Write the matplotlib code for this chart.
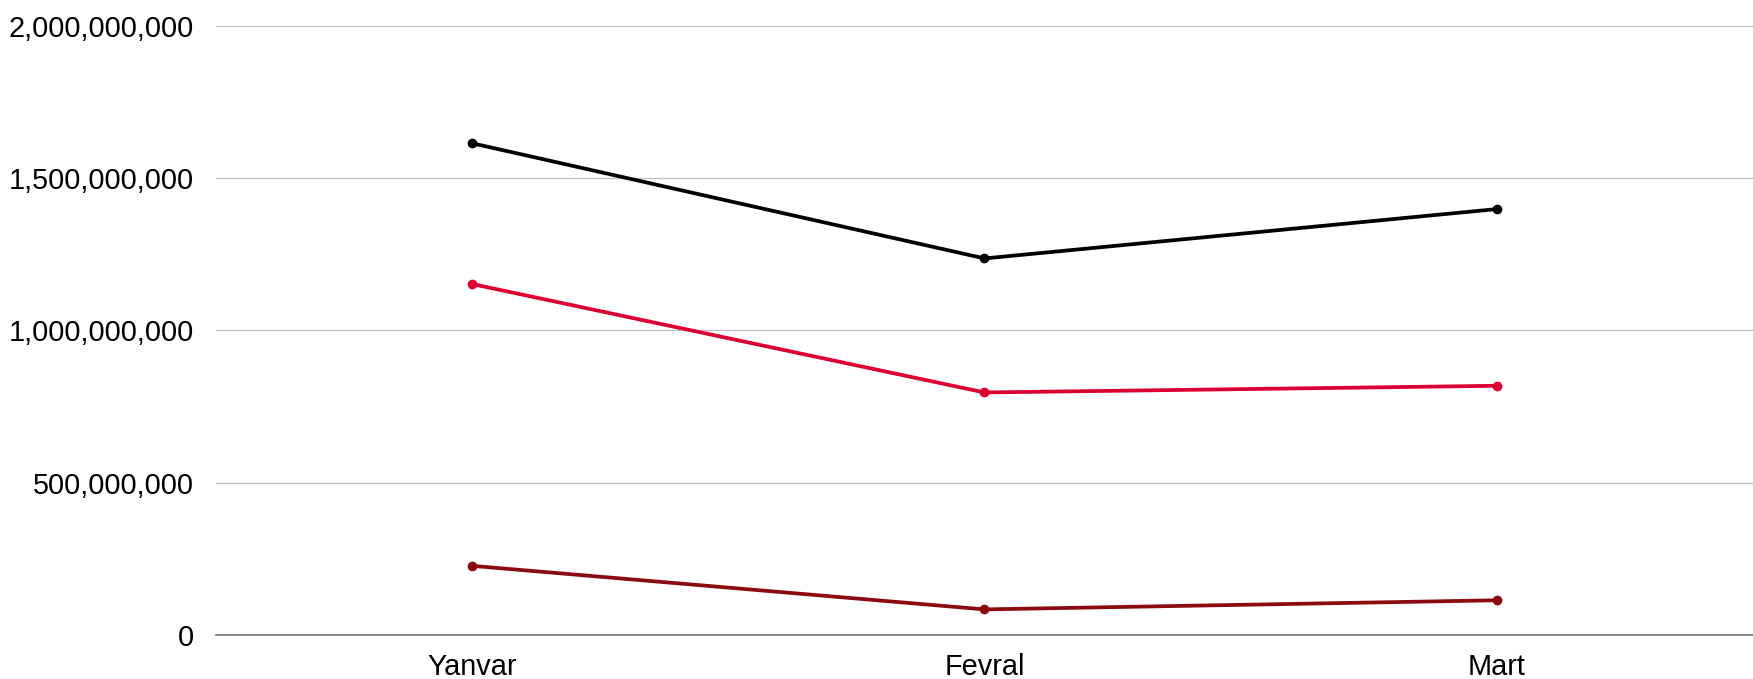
import matplotlib
matplotlib.use('Agg')
import matplotlib.pyplot as plt
from matplotlib.ticker import FuncFormatter

plt.rcParams['font.family'] = ['Liberation Sans', 'DejaVu Sans']

months = ['Yanvar', 'Fevral', 'Mart']
total = [1614e6, 1236e6, 1398e6]
second = [1152e6, 796e6, 818e6]
third = [227e6, 84e6, 114e6]

colors = ['#000000', '#DC0032', '#8B0A10']

fig = plt.figure(figsize=(17.53, 6.79), dpi=100)
ax = fig.add_axes([0.1232, 0.0648, 0.8768, 0.8974])

x = range(len(months))
for vals, c in zip([total, second, third], colors):
    ax.plot(x, vals, color=c, lw=2.7, marker='o', ms=6, solid_capstyle='round')

ax.set_xlim(-0.5, 2.5)
ax.set_ylim(0, 2e9)
ax.set_yticks([0, 5e8, 1e9, 1.5e9, 2e9])
ax.yaxis.set_major_formatter(FuncFormatter(lambda v, p: f'{int(v):,}'))
ax.set_xticks(list(x))
ax.set_xticklabels(months)
ax.grid(axis='y', color='#C0C0C0', lw=0.9)
ax.set_axisbelow(True)
for s in ['top', 'right', 'left']:
    ax.spines[s].set_visible(False)
ax.spines['bottom'].set_color('#707070')
ax.spines['bottom'].set_linewidth(1.2)
ax.tick_params(axis='both', length=0, labelsize=20.8, colors='#000000')
ax.tick_params(axis='y', pad=16)
ax.tick_params(axis='x', pad=13)

fig.savefig('out.png', dpi=100)
